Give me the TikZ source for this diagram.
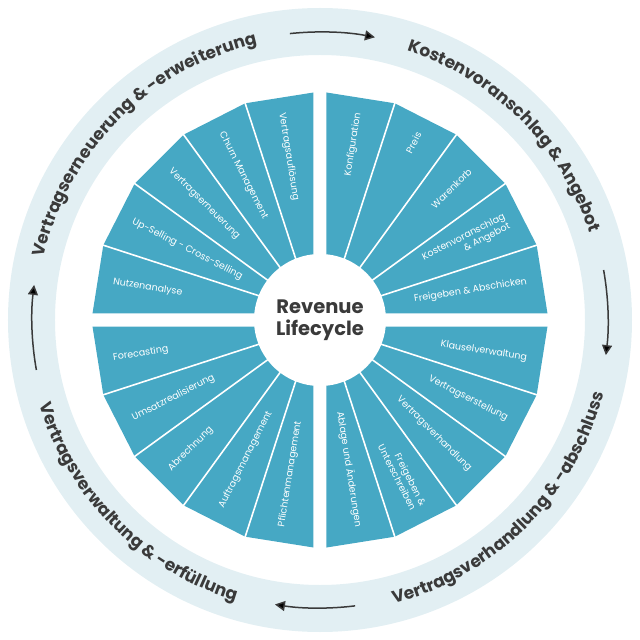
\documentclass[tikz,border=0pt]{standalone}
\usepackage{fontspec}
\setmainfont{Poppins}
\usetikzlibrary{arrows.meta, decorations.text, calc}

\definecolor{ringblue}{HTML}{E2EFF3}
\definecolor{segteal}{HTML}{46A8C4}
\definecolor{inkgray}{HTML}{3A3A3A}

\newcommand\ringfont{\fontsize{17}{20}\selectfont\bfseries}

\begin{document}
\begin{tikzpicture}[
  >={Triangle[length=10pt, width=10pt]},
  every node/.style={font=\fontsize{9.5}{11}\selectfont}
]
\tikzset{
  ring/.style     ={fill=ringblue, even odd rule},
  sector/.style   ={fill=segteal},
  divider/.style  ={draw=white, line width=1.6pt},
  flow/.style     ={->, draw=inkgray, line width=1.5pt},
  seglab/.style   ={text=white, inner sep=0pt, align=right},
  ringlab/.style  ={decorate, decoration={text along path, text align=center,
                    text color=inkgray, text={|\ringfont|#1}}},
  hub/.style      ={fill=white}
}
\useasboundingbox (-320pt,-320pt) rectangle (320pt,320pt);

%% ----- Outer ring -----
\path[ring] (0,0) circle[radius=312pt] (0,0) circle[radius=265pt];

%% ----- Phase labels along the ring -----
\path[ringlab={Vertragserneuerung {\&} -erweiterung}]
  (180:283pt) arc[start angle=180, end angle=90, radius=283pt];
\path[ringlab={Kostenvoranschlag {\&} Angebot}]
  (90:283pt) arc[start angle=90, end angle=0, radius=283pt];
\path[ringlab={Vertragsverhandlung {\&} -abschluss}]
  (-90:293pt) arc[start angle=-90, end angle=0, radius=293pt];
\path[ringlab={Vertragsverwaltung {\&} -erfüllung}]
  (180:293pt) arc[start angle=180, end angle=270, radius=293pt];

%% ----- Clockwise arrows -----
\draw[flow] (96:288pt)  arc[start angle=96,  end angle=79,  radius=288pt];
\draw[flow] (10:288pt)  arc[start angle=10,  end angle=-7,  radius=288pt];
\draw[flow] (277:288pt) arc[start angle=277, end angle=261, radius=288pt];
\draw[flow] (190:288pt) arc[start angle=190, end angle=173, radius=288pt];

%% ----- Four quadrant fans, five slices each -----
\foreach \qx/\qy/\a in {-1/1/90, 1/1/0, 1/-1/270, -1/-1/180} {
  \begin{scope}[shift={(\qx*6.5pt,\qy*6.5pt)}]
    \path[sector] (0,0) -- (\a:221pt) -- (\a+18:221pt) -- (\a+36:221pt)
      -- (\a+54:221pt) -- (\a+72:221pt) -- (\a+90:221pt) -- cycle;
    \foreach \k in {1,...,4}
      \draw[divider] (0,0) -- (\a+18*\k:222pt);
  \end{scope}
}

%% ----- Slice labels, right half (read outward) -----
\foreach \t/\txt [count=\i] in {81/Konfiguration, 63/Preis, 45/Warenkorb,
    27/{Kostenvoranschlag\\\& Angebot}, 9/{Freigeben \& Abschicken}}
  \node[seglab, rotate=\t, anchor=east] (tr\i)
    at ($(6.5pt,6.5pt)+(\t:203pt)$) {\txt};
\foreach \t/\txt [count=\i] in {-9/Klauselverwaltung, -27/Vertragserstellung,
    -45/Vertragsverhandlung, -63/{Freigeben \&\\Unterschreiben},
    -81/Ablage und Änderungen}
  \node[seglab, rotate=\t, anchor=east] (br\i)
    at ($(6.5pt,-6.5pt)+(\t:203pt)$) {\txt};

%% ----- Slice labels, left half (read inward) -----
\foreach \t/\txt [count=\i] in {99/Vertragsauflösung, 117/Churn Management,
    135/Vertragserneuerung, 153/Up-Selling - Cross-Selling, 171/Nutzenanalyse}
  \node[seglab, rotate=\t-180, anchor=west] (tl\i)
    at ($(-6.5pt,6.5pt)+(\t:203pt)$) {\txt};
\foreach \t/\txt [count=\i] in {189/Forecasting, 207/Umsatzrealisierung,
    225/Abrechnung, 243/Auftragsmanagement, 261/Pflichtenmanagement}
  \node[seglab, rotate=\t-180, anchor=west] (bl\i)
    at ($(-6.5pt,-6.5pt)+(\t:203pt)$) {\txt};

%% ----- Hub -----
\path[hub] (0,0) circle[radius=66pt];
\node[font=\fontsize{19.5}{22}\selectfont\bfseries, text=inkgray, align=center]
  (hubtitle) at (0,0) {Revenue\\Lifecycle};

\end{tikzpicture}
\end{document}
